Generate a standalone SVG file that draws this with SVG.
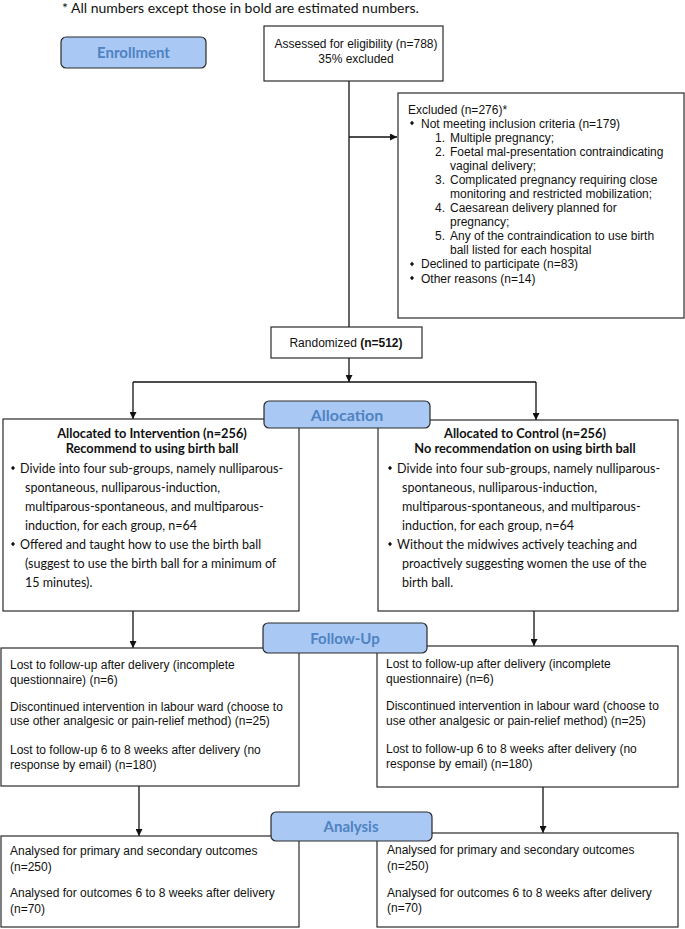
<svg xmlns="http://www.w3.org/2000/svg" width="685" height="929" viewBox="0 0 685 929">
<defs>
<marker id="arr" viewBox="0 0 10 10" refX="10" refY="5" markerWidth="7" markerHeight="7" markerUnits="userSpaceOnUse" orient="auto">
<path d="M0,0 L10,5 L0,10 z" fill="#111"/>
</marker>
<path id="dia" d="M0,-2.3 L2,0 L0,2.3 L-2,0 z" fill="#111"/>
</defs>
<style>
.box{fill:#fff;stroke:#2a2a2a;stroke-width:1.2}
.lab{fill:#a9c8f4;stroke:#2a2a2a;stroke-width:1.2}
.labt{font-family:Lato,"Liberation Sans",sans-serif;font-weight:bold;fill:#4f83c2;text-anchor:middle}
.ar{font-family:"Liberation Sans",Arial,sans-serif;font-size:12px;fill:#111}
.cal{font-family:Lato,"Liberation Sans",sans-serif;font-size:12.5px;fill:#111}
.calb{font-family:Lato,"Liberation Sans",sans-serif;font-size:12.8px;font-weight:bold;fill:#111;text-anchor:middle}
.c{text-anchor:middle}
.ln{fill:none;stroke:#111;stroke-width:1.3}
</style>
<text class="cal" x="62" y="12.5" style="font-size:14px">* All numbers except those in bold are estimated numbers.</text>

<g id="connectors">
<path class="ln" d="M349,81 V327"/>
<path class="ln" d="M349,137 H397" marker-end="url(#arr)"/>
<path class="ln" d="M349,358 V382" marker-end="url(#arr)"/>
<path class="ln" d="M133,382 H536"/>
<path class="ln" d="M133,382 V419" marker-end="url(#arr)"/>
<path class="ln" d="M536,382 V420" marker-end="url(#arr)"/>
<path class="ln" d="M133,611 V648" marker-end="url(#arr)"/>
<path class="ln" d="M534,611 V646" marker-end="url(#arr)"/>
<path class="ln" d="M139,786 V836" marker-end="url(#arr)"/>
<path class="ln" d="M543,787 V833" marker-end="url(#arr)"/>
</g>

<g id="enrollment">
<rect class="lab" x="61" y="37" width="145" height="31" rx="5"/>
<text class="labt" x="133.5" y="58" style="font-size:15px">Enrollment</text>
</g>

<g id="assessed">
<rect class="box" x="264" y="26" width="179" height="55"/>
<text class="ar c" x="356" y="48">Assessed for eligibility (n=788)</text>
<text class="ar c" x="356" y="63">35% excluded</text>
</g>

<g id="excluded">
<rect class="box" x="398" y="93" width="286" height="225"/>
<text class="ar" x="408" y="113.5">Excluded (n=276)*</text>
<use href="#dia" x="412" y="123"/>
<text class="ar" x="421" y="127.5">Not meeting inclusion criteria (n=179)</text>
<text class="ar" x="435" y="141.5">1.</text><text class="ar" x="450" y="141.5">Multiple pregnancy;</text>
<text class="ar" x="435" y="155.5">2.</text><text class="ar" x="450" y="155.5">Foetal mal-presentation contraindicating</text>
<text class="ar" x="450" y="169.5">vaginal delivery;</text>
<text class="ar" x="435" y="183.5">3.</text><text class="ar" x="450" y="183.5">Complicated pregnancy requiring close</text>
<text class="ar" x="450" y="197.5">monitoring and restricted mobilization;</text>
<text class="ar" x="435" y="211.5">4.</text><text class="ar" x="450" y="211.5">Caesarean delivery planned for</text>
<text class="ar" x="450" y="225.5">pregnancy;</text>
<text class="ar" x="435" y="239.5">5.</text><text class="ar" x="450" y="239.5">Any of the contraindication to use birth</text>
<text class="ar" x="450" y="253.5">ball listed for each hospital</text>
<use href="#dia" x="412" y="264"/>
<text class="ar" x="421" y="268">Declined to participate (n=83)</text>
<use href="#dia" x="412" y="278"/>
<text class="ar" x="421" y="282.5">Other reasons (n=14)</text>
</g>

<g id="randomized">
<rect class="box" x="271" y="327" width="151" height="31"/>
<text class="ar c" x="346" y="347">Randomized <tspan font-weight="bold">(n=512)</tspan></text>
</g>

<g id="intervention">
<rect class="box" x="3" y="419" width="296" height="192"/>
<text class="calb" x="152" y="437.5">Allocated to Intervention (n=256)</text>
<text class="calb" x="152" y="452.5">Recommend to using birth ball</text>
<use href="#dia" x="13" y="468"/>
<text class="cal" x="20" y="472.5">Divide into four sub-groups, namely nulliparous-</text>
<text class="cal" x="25" y="491.5">spontaneous, nulliparous-induction,</text>
<text class="cal" x="25" y="510.5">multiparous-spontaneous, and multiparous-</text>
<text class="cal" x="25" y="529.5">induction, for each group, n=64</text>
<use href="#dia" x="13" y="544"/>
<text class="cal" x="20" y="548.5">Offered and taught how to use the birth ball</text>
<text class="cal" x="25" y="567.5">(suggest to use the birth ball for a minimum of</text>
<text class="cal" x="25" y="586.5">15 minutes).</text>
</g>

<g id="control">
<rect class="box" x="378" y="420" width="300" height="191"/>
<text class="calb" x="525" y="437.5">Allocated to Control (n=256)</text>
<text class="calb" x="525" y="452.5">No recommendation on using birth ball</text>
<use href="#dia" x="390" y="468"/>
<text class="cal" x="397" y="472.5">Divide into four sub-groups, namely nulliparous-</text>
<text class="cal" x="402" y="491.5">spontaneous, nulliparous-induction,</text>
<text class="cal" x="402" y="510.5">multiparous-spontaneous, and multiparous-</text>
<text class="cal" x="402" y="529.5">induction, for each group, n=64</text>
<use href="#dia" x="390" y="544"/>
<text class="cal" x="397" y="548.5">Without the midwives actively teaching and</text>
<text class="cal" x="402" y="567.5">proactively suggesting women the use of the</text>
<text class="cal" x="402" y="586.5">birth ball.</text>
</g>

<g id="allocation">
<rect class="lab" x="264" y="401" width="166" height="27" rx="5"/>
<text class="labt" x="347" y="421" style="font-size:16px">Allocation</text>
</g>

<g id="followup-left">
<rect class="box" x="1" y="648" width="298" height="138"/>
<text class="ar" x="10" y="669">Lost to follow-up after delivery (incomplete</text>
<text class="ar" x="10" y="684">questionnaire) (n=6)</text>
<text class="ar" x="10" y="711">Discontinued intervention in labour ward (choose to</text>
<text class="ar" x="10" y="725">use other analgesic or pain-relief method) (n=25)</text>
<text class="ar" x="10" y="754">Lost to follow-up 6 to 8 weeks after delivery (no</text>
<text class="ar" x="10" y="769">response by email) (n=180)</text>
</g>

<g id="followup-right">
<rect class="box" x="377" y="646" width="301" height="141"/>
<text class="ar" x="386" y="668">Lost to follow-up after delivery (incomplete</text>
<text class="ar" x="386" y="683">questionnaire) (n=6)</text>
<text class="ar" x="386" y="710">Discontinued intervention in labour ward (choose to</text>
<text class="ar" x="386" y="725">use other analgesic or pain-relief method) (n=25)</text>
<text class="ar" x="386" y="753">Lost to follow-up 6 to 8 weeks after delivery (no</text>
<text class="ar" x="386" y="768">response by email) (n=180)</text>
</g>

<g id="followup">
<rect class="lab" x="263" y="623" width="164" height="30" rx="5"/>
<text class="labt" x="345" y="644" style="font-size:15px">Follow-Up</text>
</g>

<g id="analysis-left">
<rect class="box" x="1" y="836" width="298" height="91"/>
<text class="ar" x="10" y="855">Analysed for primary and secondary outcomes</text>
<text class="ar" x="10" y="871">(n=250)</text>
<text class="ar" x="10" y="897">Analysed for outcomes 6 to 8 weeks after delivery</text>
<text class="ar" x="10" y="913">(n=70)</text>
</g>

<g id="analysis-right">
<rect class="box" x="377" y="833" width="301" height="94"/>
<text class="ar" x="387" y="854">Analysed for primary and secondary outcomes</text>
<text class="ar" x="387" y="870">(n=250)</text>
<text class="ar" x="387" y="897">Analysed for outcomes 6 to 8 weeks after delivery</text>
<text class="ar" x="387" y="912">(n=70)</text>
</g>

<g id="analysis">
<rect class="lab" x="271" y="812" width="161" height="29" rx="5"/>
<text class="labt" x="351" y="832" style="font-size:15px">Analysis</text>
</g>
</svg>
